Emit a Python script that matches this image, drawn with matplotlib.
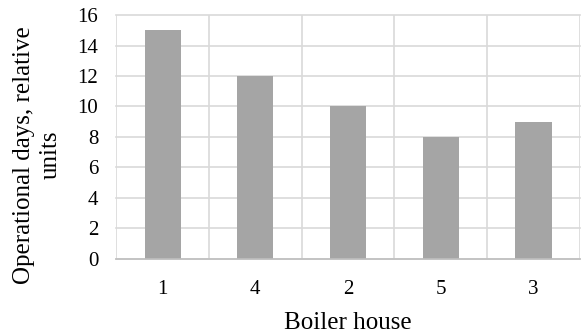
import matplotlib.pyplot as plt

plt.rcParams['font.family'] = ['Liberation Serif', 'DejaVu Serif']

houses = ["1", "4", "2", "5", "3"]
days = [15, 12, 10, 8, 9]

fig, ax = plt.subplots(figsize=(5.84, 3.34), dpi=100)
fig.subplots_adjust(left=0.199, right=0.993, top=0.955, bottom=0.225)

x = range(len(houses))
ax.bar(x, days, width=0.39, color="#a5a5a5", zorder=3)

ax.set_xlim(-0.5, len(houses) - 0.5)
ax.set_ylim(0, 16)
ax.set_yticks(range(0, 17, 2))
ax.set_xticks(list(x))
ax.set_xticklabels(houses)
ax.set_xticks([i + 0.5 for i in range(-1, len(houses))], minor=True)

ax.grid(axis="y", color="#d9d9d9", linewidth=1.2, zorder=0)
ax.grid(axis="x", which="minor", color="#d9d9d9", linewidth=1.2, zorder=0)
for line in ax.get_xgridlines() + ax.get_ygridlines():
    line.set_clip_on(False)
ax.tick_params(axis="both", which="both", length=0, labelsize=15, colors="black")
ax.tick_params(axis="y", pad=13)
ax.tick_params(axis="x", pad=15)

for side in ["top", "right", "left"]:
    ax.spines[side].set_visible(False)
ax.spines["bottom"].set_color("#bfbfbf")
ax.spines["bottom"].set_linewidth(1.2)
ax.spines["bottom"].set_zorder(4)

ax.set_xlabel("Boiler house", fontsize=18)
ax.xaxis.set_label_coords(0.5, -0.22)
ax.set_ylabel("Operational days, relative\nunits", fontsize=18, linespacing=1.3)
ax.yaxis.set_label_coords(-0.117, 0.426)

plt.savefig("out.png")
